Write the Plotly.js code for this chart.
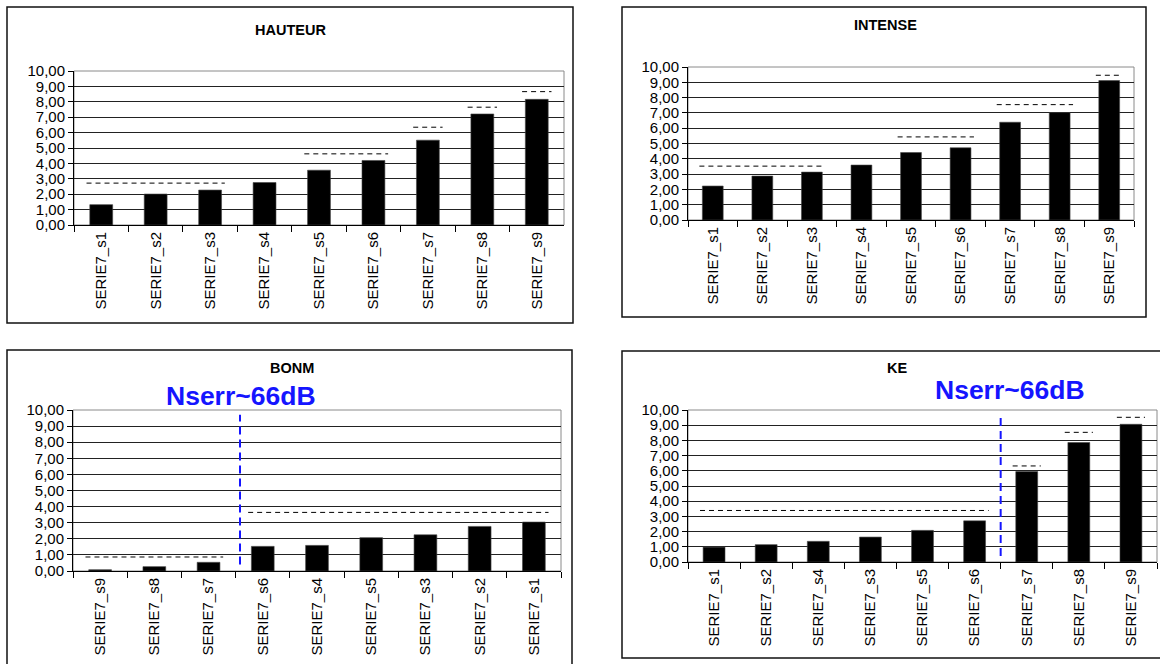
<!DOCTYPE html>
<html>
<head>
<meta charset="utf-8">
<script src="https://cdn.plot.ly/plotly-3.0.1.min.js"></script>
<style>
  html, body { margin: 0; padding: 0; background: #fff; }
  #chart { width: 1160px; height: 664px; }
</style>
</head>
<body>
<div id="chart"></div>
<script>
// ---------- DATA ----------
const hauteurCategories = ['SERIE7_s1','SERIE7_s2','SERIE7_s3','SERIE7_s4','SERIE7_s5','SERIE7_s6','SERIE7_s7','SERIE7_s8','SERIE7_s9'];
const hauteurValues = [1.32, 2.01, 2.27, 2.76, 3.56, 4.19, 5.51, 7.21, 8.16];
const hauteurRefFrom = ['SERIE7_s1','SERIE7_s5','SERIE7_s7','SERIE7_s8','SERIE7_s9'];
const hauteurRefTo   = ['SERIE7_s3','SERIE7_s6','SERIE7_s7','SERIE7_s8','SERIE7_s9'];
const hauteurRefLevel = [2.72, 4.62, 6.35, 7.65, 8.66];

const intenseCategories = ['SERIE7_s1','SERIE7_s2','SERIE7_s3','SERIE7_s4','SERIE7_s5','SERIE7_s6','SERIE7_s7','SERIE7_s8','SERIE7_s9'];
const intenseValues = [2.22, 2.87, 3.13, 3.59, 4.41, 4.72, 6.39, 7.02, 9.11];
const intenseRefFrom = ['SERIE7_s1','SERIE7_s5','SERIE7_s7','SERIE7_s9'];
const intenseRefTo   = ['SERIE7_s3','SERIE7_s6','SERIE7_s8','SERIE7_s9'];
const intenseRefLevel = [3.52, 5.43, 7.54, 9.46];

const bonmCategories = ['SERIE7_s9','SERIE7_s8','SERIE7_s7','SERIE7_s6','SERIE7_s4','SERIE7_s5','SERIE7_s3','SERIE7_s2','SERIE7_s1'];
const bonmValues = [0.08, 0.27, 0.54, 1.53, 1.59, 2.07, 2.25, 2.77, 3.04];
const bonmRefFrom = ['SERIE7_s9','SERIE7_s6'];
const bonmRefTo   = ['SERIE7_s7','SERIE7_s1'];
const bonmRefLevel = [0.87, 3.64];
const bonmSplitAfter = 'SERIE7_s7';

const keCategories = ['SERIE7_s1','SERIE7_s2','SERIE7_s4','SERIE7_s3','SERIE7_s5','SERIE7_s6','SERIE7_s7','SERIE7_s8','SERIE7_s9'];
const keValues = [0.98, 1.14, 1.36, 1.64, 2.08, 2.71, 5.95, 7.86, 9.06];
const keRefFrom = ['SERIE7_s1','SERIE7_s7','SERIE7_s8','SERIE7_s9'];
const keRefTo   = ['SERIE7_s6','SERIE7_s7','SERIE7_s8','SERIE7_s9'];
const keRefLevel = [3.39, 6.32, 8.53, 9.52];
const keSplitAfter = 'SERIE7_s6';

const panelTitles = ['HAUTEUR', 'INTENSE', 'BONM', 'KE'];
const thresholdLabel = 'Nserr~66dB';
const yTickValues = [0,1,2,3,4,5,6,7,8,9,10];

// ---------- LAYOUT HELPERS ----------
const W = 1160, H = 664;
const px = x => x / W;
const py = y => 1 - y / H;
const FONT = '"Liberation Sans", Arial, sans-serif';
const TICK_SIZE = 15;

const panels = [
  {cats: hauteurCategories, vals: hauteurValues, from: hauteurRefFrom, to: hauteurRefTo, lvl: hauteurRefLevel,
   plot: [74, 564, 71, 225], box: [7, 7, 573, 323], title: [290, 30]},
  {cats: intenseCategories, vals: intenseValues, from: intenseRefFrom, to: intenseRefTo, lvl: intenseRefLevel,
   plot: [688, 1134, 67, 220], box: [622, 7, 1146, 317], title: [885, 25]},
  {cats: bonmCategories, vals: bonmValues, from: bonmRefFrom, to: bonmRefTo, lvl: bonmRefLevel,
   plot: [73, 561, 410, 571], box: [7, 350, 572, 700], title: [292, 368],
   split: bonmSplitAfter, splitLabel: [241, 396], splitOffset: 0.58},
  {cats: keCategories, vals: keValues, from: keRefFrom, to: keRefTo, lvl: keRefLevel,
   plot: [688, 1157, 410, 562], box: [622, 351, 1175, 658], title: [897, 368],
   split: keSplitAfter, splitLabel: [1010, 390], splitOffset: 0.5}
];

const data = [];
const layout = {
  width: W, height: H,
  margin: {l: 0, r: 0, t: 0, b: 0},
  paper_bgcolor: '#fff',
  plot_bgcolor: 'rgba(0,0,0,0)',
  showlegend: false,
  separators: ', ',
  bargap: 0.58,
  font: {family: FONT, color: '#000', size: TICK_SIZE},
  shapes: [],
  annotations: []
};

panels.forEach((p, i) => {
  const n = i + 1;
  const xa = 'xaxis' + (n === 1 ? '' : n), ya = 'yaxis' + (n === 1 ? '' : n);
  const xr = 'x' + (n === 1 ? '' : n), yr = 'y' + (n === 1 ? '' : n);

  data.push({
    type: 'bar', x: p.cats, y: p.vals, xaxis: xr, yaxis: yr,
    marker: {color: '#000', line: {color: '#444', width: 0.6}},
    hoverinfo: 'x+y'
  });

  layout[xa] = {
    domain: [px(p.plot[0]), px(p.plot[1])],
    anchor: yr, type: 'category',
    categoryorder: 'array', categoryarray: p.cats,
    tickangle: -90, tickfont: {family: FONT, size: TICK_SIZE, color: '#000'},
    ticks: 'outside', tickson: 'boundaries', ticklen: 6, tickcolor: '#000', tickwidth: 1,
    showline: true, linecolor: '#000', linewidth: 1,
    showgrid: false, zeroline: false, fixedrange: true
  };
  layout[ya] = {
    domain: [py(p.plot[3]), py(p.plot[2])],
    anchor: xr, range: [0, 10], tickvals: yTickValues, tickformat: '.2f',
    tickfont: {family: FONT, size: TICK_SIZE, color: '#000'},
    ticks: 'outside', ticklen: 5, tickcolor: '#000', tickwidth: 1,
    showline: true, linecolor: '#000', linewidth: 1,
    showgrid: true, gridcolor: '#222', gridwidth: 1,
    zeroline: false, fixedrange: true
  };

  // plot-area border (gray)
  layout.shapes.push({type: 'rect', xref: xr + ' domain', yref: yr + ' domain',
    x0: 0, x1: 1, y0: 0, y1: 1, line: {color: '#8a8a8a', width: 1}, layer: 'below'});

  // chart border
  layout.shapes.push({type: 'rect', xref: 'paper', yref: 'paper',
    x0: px(p.box[0]), x1: px(p.box[2]), y0: py(p.box[3]), y1: py(p.box[1]),
    line: {color: '#111', width: 1.5}});

  // dashed reference levels
  p.lvl.forEach((lv, k) => {
    const a = p.cats.indexOf(p.from[k]), b = p.cats.indexOf(p.to[k]);
    layout.shapes.push({type: 'line', xref: xr, yref: yr,
      x0: a - 0.27, x1: b + 0.27, y0: lv, y1: lv,
      line: {color: '#000', width: 1, dash: '5px,4px'}});
  });

  // title
  layout.annotations.push({xref: 'paper', yref: 'paper', x: px(p.title[0]), y: py(p.title[1]),
    text: '<b>' + panelTitles[i] + '</b>', showarrow: false, xanchor: 'center', yanchor: 'middle',
    font: {family: FONT, size: 14.5, color: '#000'}});

  // threshold split
  if (p.split) {
    const s = p.cats.indexOf(p.split) + p.splitOffset;
    layout.shapes.push({type: 'line', xref: xr, yref: yr, x0: s, x1: s, y0: 0.4, y1: 9.7,
      line: {color: '#1515ff', width: 2, dash: '8px,5px'}});
    layout.annotations.push({xref: 'paper', yref: 'paper', x: px(p.splitLabel[0]), y: py(p.splitLabel[1]),
      text: '<b>' + thresholdLabel + '</b>', showarrow: false, xanchor: 'center', yanchor: 'middle',
      font: {family: FONT, size: 26.5, color: '#1515ff'}});
  }
});

Plotly.newPlot('chart', data, layout, {displayModeBar: false, staticPlot: true});
</script>
</body>
</html>
